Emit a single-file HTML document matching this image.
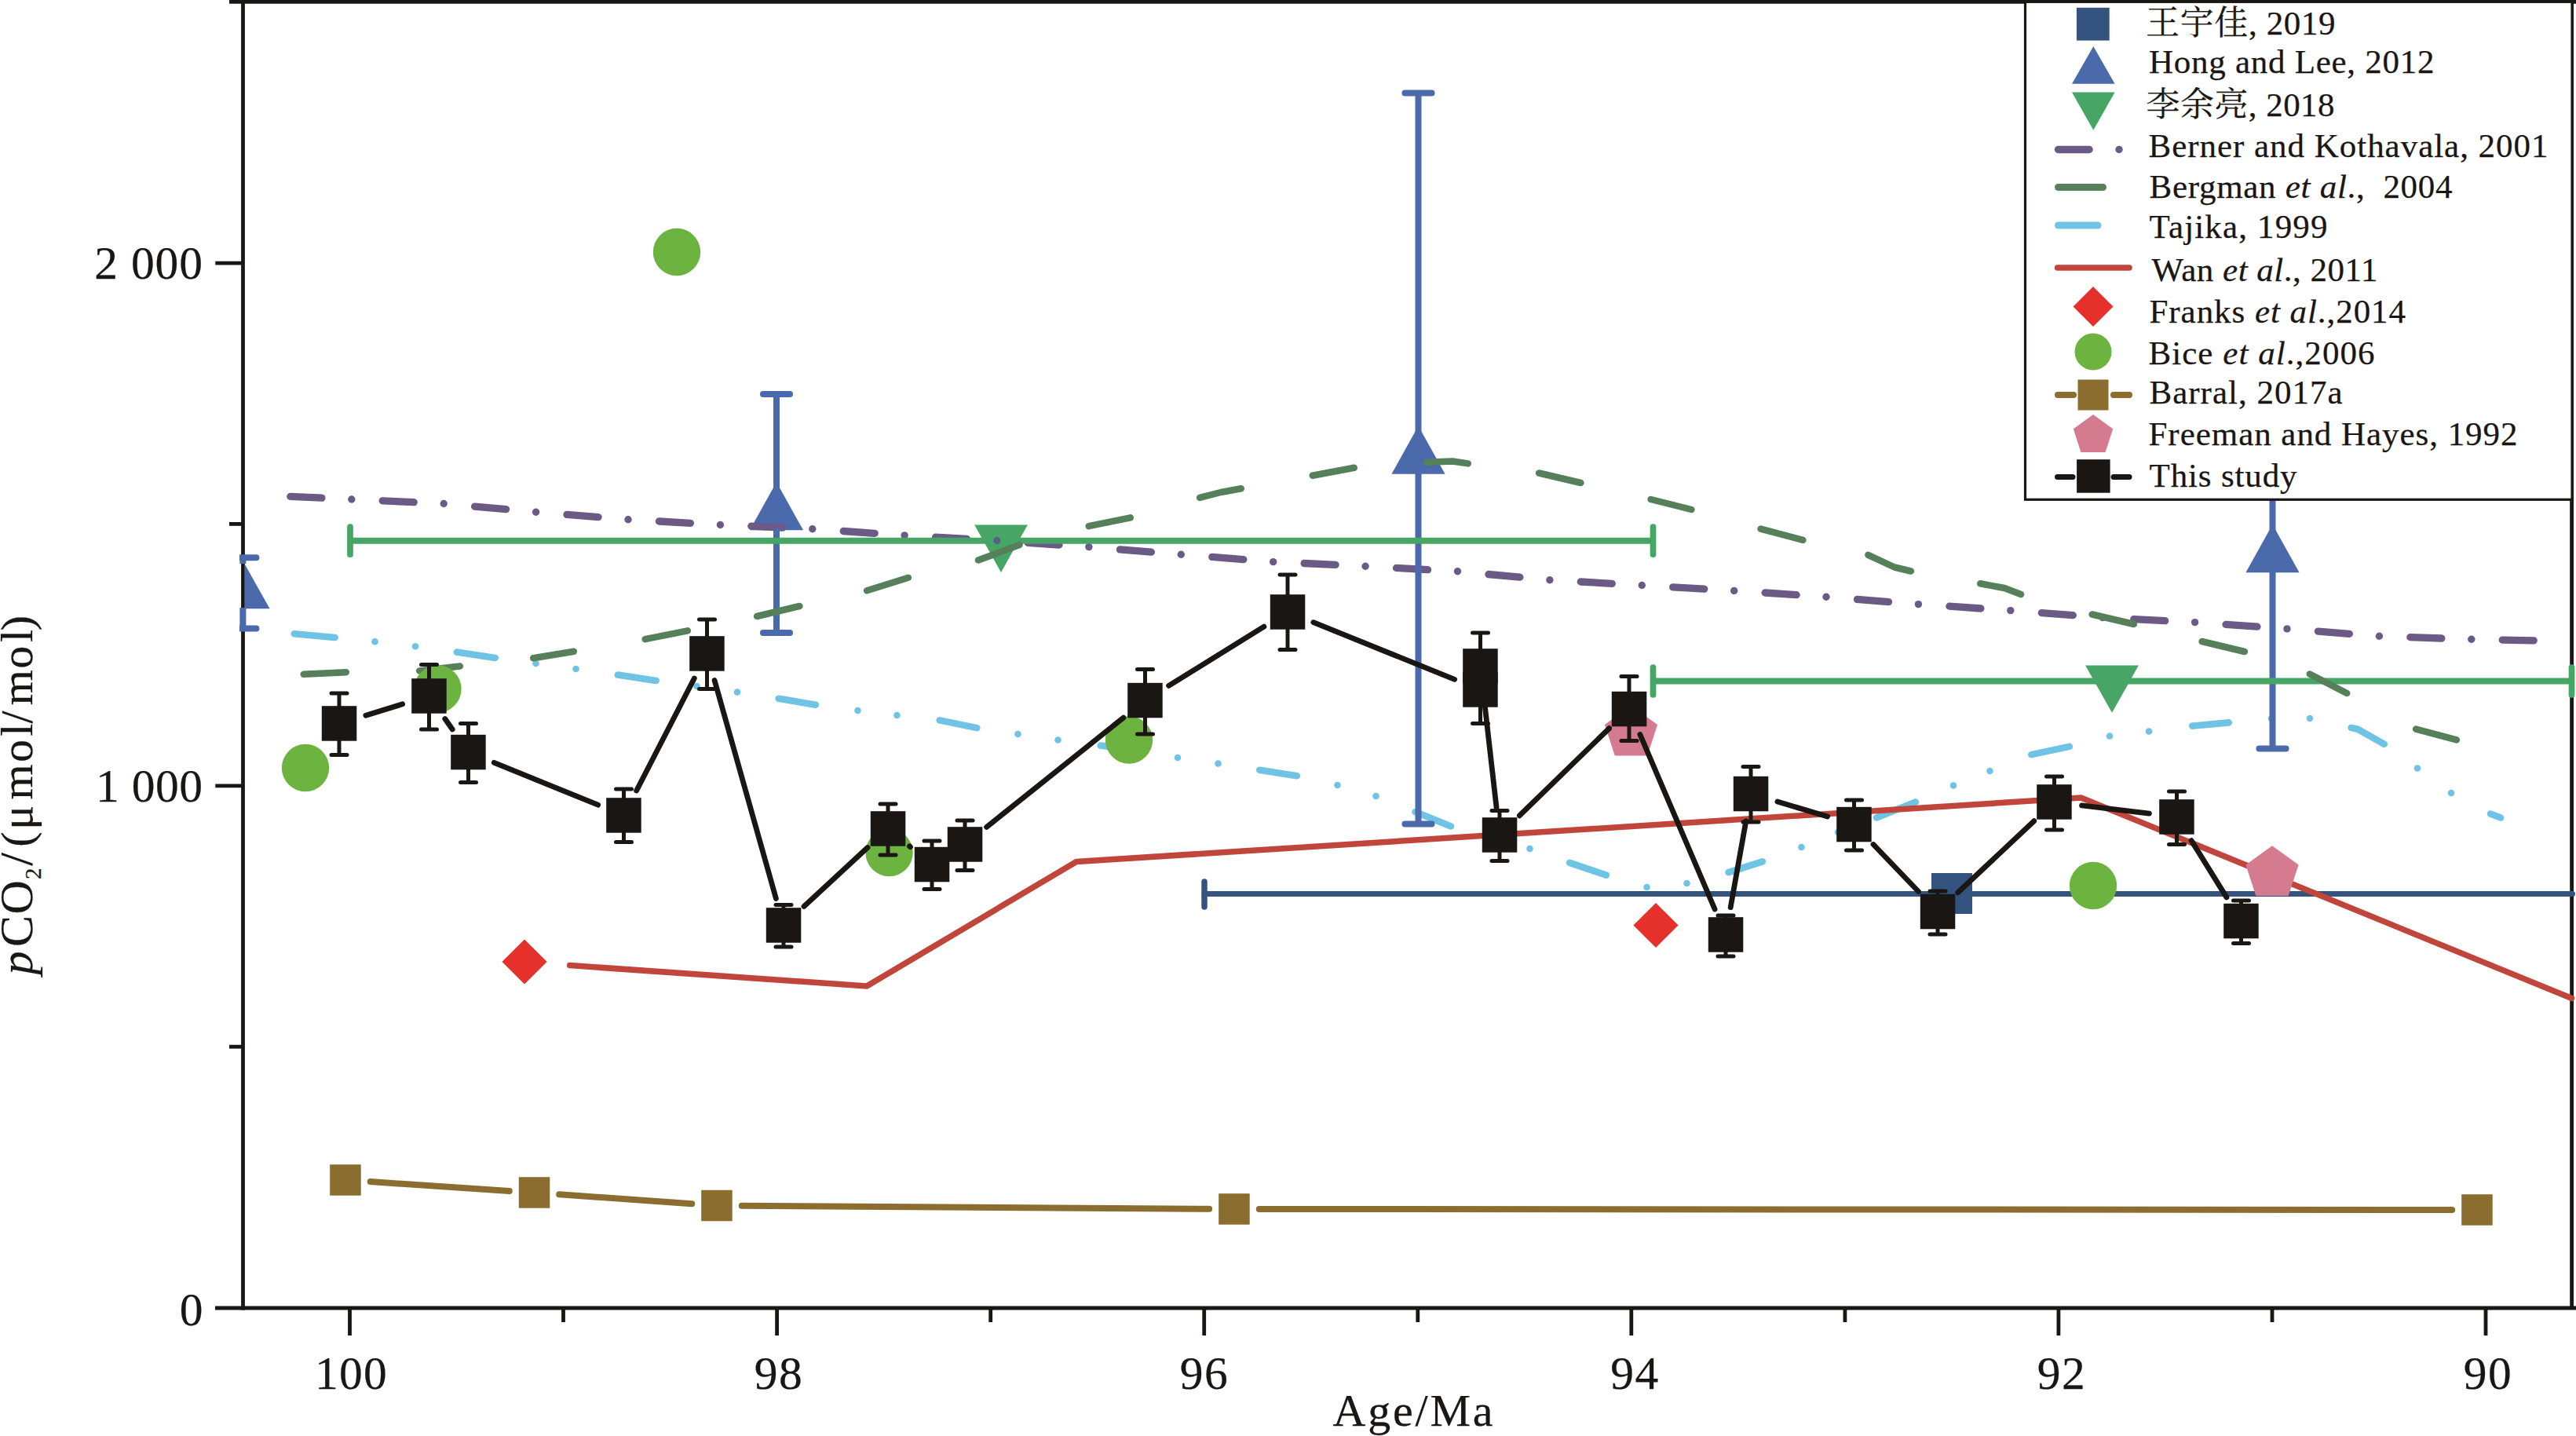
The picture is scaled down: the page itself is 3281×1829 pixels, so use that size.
<!DOCTYPE html>
<html lang="zh"><head><meta charset="utf-8"><title>pCO2 vs Age</title>
<style>html,body{margin:0;padding:0;background:#fff}svg{display:block}text{font-family:'Liberation Serif','Noto Serif CJK SC',serif;fill:#1a1613;stroke:#1a1613;stroke-width:.25px}</style></head><body>
<svg width="3281" height="1829" viewBox="0 0 3281 1829">
<rect width="3281" height="1829" fill="#fff"/>
<defs><clipPath id="cpPlot"><rect x="311.5" y="0" width="2980" height="1668"/></clipPath><clipPath id="cpBar"><rect x="305" y="0" width="2980" height="1668"/></clipPath></defs>
<g stroke="#1a1613" stroke-width="4.8" stroke-linecap="butt" fill="none">
<line x1="292" y1="2.35" x2="3281" y2="2.35" stroke-width="4.8"/>
<line x1="309.5" y1="0" x2="309.5" y2="1668.4"/>
<line x1="274" y1="1666" x2="3281" y2="1666"/>
<line x1="3275.6" y1="0" x2="3275.6" y2="1666" stroke-width="4.8"/>
<line x1="274.3" y1="1000.9" x2="309.5" y2="1000.9"/>
<line x1="274.3" y1="335.2" x2="309.5" y2="335.2"/>
<line x1="292" y1="1333.2" x2="309.5" y2="1333.2"/>
<line x1="292" y1="667.4" x2="309.5" y2="667.4"/>
<line x1="445.5" y1="1666" x2="445.5" y2="1701"/>
<line x1="989.6" y1="1666" x2="989.6" y2="1701"/>
<line x1="1533.7" y1="1666" x2="1533.7" y2="1701"/>
<line x1="2077.8" y1="1666" x2="2077.8" y2="1701"/>
<line x1="2621.9" y1="1666" x2="2621.9" y2="1701"/>
<line x1="3166" y1="1666" x2="3166" y2="1701"/>
<line x1="717.5" y1="1666" x2="717.5" y2="1684"/>
<line x1="1261.7" y1="1666" x2="1261.7" y2="1684"/>
<line x1="1805.8" y1="1666" x2="1805.8" y2="1684"/>
<line x1="2349.9" y1="1666" x2="2349.9" y2="1684"/>
<line x1="2894" y1="1666" x2="2894" y2="1684"/>
</g>
<g font-size="59.5">
<text x="258.1" y="354.5" text-anchor="end" textLength="137.8" lengthAdjust="spacing">2 000</text>
<text x="258.1" y="1021" text-anchor="end" textLength="136.1" lengthAdjust="spacing">1 000</text>
<text x="258.6" y="1687.8" text-anchor="end">0</text>
<text x="446.9" y="1769" text-anchor="middle" textLength="91.8" lengthAdjust="spacing">100</text>
<text x="991.3" y="1769" text-anchor="middle" textLength="61" lengthAdjust="spacing">98</text>
<text x="1533.2" y="1769" text-anchor="middle" textLength="61" lengthAdjust="spacing">96</text>
<text x="2081.8" y="1769" text-anchor="middle" textLength="61" lengthAdjust="spacing">94</text>
<text x="2625.3" y="1769" text-anchor="middle" textLength="61" lengthAdjust="spacing">92</text>
<text x="3168.3" y="1769" text-anchor="middle" textLength="61" lengthAdjust="spacing">90</text>
<text x="1697.5" y="1816" textLength="204" lengthAdjust="spacing" font-size="58">Age/Ma</text>
<text transform="translate(40.6 1245.4) rotate(-90)"><tspan x="4" font-size="60" font-style="italic">p</tspan><tspan x="39.4" font-size="60">C</tspan><tspan x="80.8" font-size="60">O</tspan><tspan x="125.5" font-size="29" dy="11.5">2</tspan><tspan x="142.6" font-size="60" dy="-11.5">/</tspan><tspan x="166.6" font-size="58">(</tspan><tspan x="188.6" font-size="58">μ</tspan><tspan x="226.9" font-size="58">m</tspan><tspan x="274.4" font-size="58">o</tspan><tspan x="307.7" font-size="58">l</tspan><tspan x="323.9" font-size="58">/</tspan><tspan x="347.1" font-size="58">m</tspan><tspan x="393.6" font-size="58">o</tspan><tspan x="427.5" font-size="58">l</tspan><tspan x="442.1" font-size="58">)</tspan></text>
</g>
<g clip-path="url(#cpBar)">
<line x1="1534" y1="1138.5" x2="3276.5" y2="1138.5" stroke="#34537f" stroke-width="7" stroke-linecap="round"/>
<line x1="1534" y1="1123" x2="1534" y2="1155" stroke="#34537f" stroke-width="7.5" stroke-linecap="round"/>
<rect x="2460" y="1112" width="52" height="52" fill="#34537f"/>
<polygon points="989,614 1023.1,675.3 954.9,675.3" fill="#4a6aac"/>
<polygon points="1806.5,542.5 1840.6,603.8 1772.4,603.8" fill="#4a6aac"/>
<polygon points="2894.5,668 2928.6,729.3 2860.4,729.3" fill="#4a6aac"/>
<polygon points="309.5,714.5 343.6,775.3 275.4,775.3" fill="#4a6aac" clip-path="url(#cpPlot)"/>
<polyline points="369.8,632.4 409.9,634.2" fill="none" stroke="#6a5a85" stroke-width="9.3" stroke-linecap="round" stroke-linejoin="round"/>
<circle cx="447.8" cy="636" r="4.7" fill="#6a5a85"/>
<polyline points="487.2,637.8 527.2,639.7" fill="none" stroke="#6a5a85" stroke-width="9.3" stroke-linecap="round" stroke-linejoin="round"/>
<circle cx="565.2" cy="641.5" r="4.7" fill="#6a5a85"/>
<polyline points="604.6,645.1 644.6,648.7" fill="none" stroke="#6a5a85" stroke-width="9.3" stroke-linecap="round" stroke-linejoin="round"/>
<circle cx="682.6" cy="652.2" r="4.7" fill="#6a5a85"/>
<polyline points="722,655.4 762,658.6" fill="none" stroke="#6a5a85" stroke-width="9.3" stroke-linecap="round" stroke-linejoin="round"/>
<circle cx="800" cy="661.7" r="4.7" fill="#6a5a85"/>
<polyline points="839.4,664 879.4,666.3" fill="none" stroke="#6a5a85" stroke-width="9.3" stroke-linecap="round" stroke-linejoin="round"/>
<circle cx="917.4" cy="668.5" r="4.7" fill="#6a5a85"/>
<polyline points="956.8,670.2 996.8,672" fill="none" stroke="#6a5a85" stroke-width="9.3" stroke-linecap="round" stroke-linejoin="round"/>
<circle cx="1034.8" cy="673.7" r="4.7" fill="#6a5a85"/>
<polyline points="1074.2,676.5 1114.2,679.3" fill="none" stroke="#6a5a85" stroke-width="9.3" stroke-linecap="round" stroke-linejoin="round"/>
<circle cx="1152.1" cy="681.9" r="4.7" fill="#6a5a85"/>
<polyline points="1191.6,684.2 1231.6,686.5" fill="none" stroke="#6a5a85" stroke-width="9.3" stroke-linecap="round" stroke-linejoin="round"/>
<circle cx="1269.5" cy="688.7" r="4.7" fill="#6a5a85"/>
<polyline points="1309,691.3 1349,694" fill="none" stroke="#6a5a85" stroke-width="9.3" stroke-linecap="round" stroke-linejoin="round"/>
<circle cx="1386.9" cy="696.6" r="4.7" fill="#6a5a85"/>
<polyline points="1426.4,699.9 1466.4,703.2" fill="none" stroke="#6a5a85" stroke-width="9.3" stroke-linecap="round" stroke-linejoin="round"/>
<circle cx="1504.3" cy="706.3" r="4.7" fill="#6a5a85"/>
<polyline points="1543.8,709.4 1583.8,712.6" fill="none" stroke="#6a5a85" stroke-width="9.3" stroke-linecap="round" stroke-linejoin="round"/>
<circle cx="1621.7" cy="715.6" r="4.7" fill="#6a5a85"/>
<polyline points="1661.1,717.5 1701.1,719.4" fill="none" stroke="#6a5a85" stroke-width="9.3" stroke-linecap="round" stroke-linejoin="round"/>
<circle cx="1739.1" cy="721.2" r="4.7" fill="#6a5a85"/>
<polyline points="1778.5,723.4 1818.5,725.7" fill="none" stroke="#6a5a85" stroke-width="9.3" stroke-linecap="round" stroke-linejoin="round"/>
<circle cx="1856.5" cy="727.8" r="4.7" fill="#6a5a85"/>
<polyline points="1895.9,731.5 1935.9,735.2" fill="none" stroke="#6a5a85" stroke-width="9.3" stroke-linecap="round" stroke-linejoin="round"/>
<circle cx="1973.9" cy="738.8" r="4.7" fill="#6a5a85"/>
<polyline points="2013.3,741 2053.3,743.3" fill="none" stroke="#6a5a85" stroke-width="9.3" stroke-linecap="round" stroke-linejoin="round"/>
<circle cx="2091.3" cy="745.5" r="4.7" fill="#6a5a85"/>
<polyline points="2130.7,747.8 2170.7,750.2" fill="none" stroke="#6a5a85" stroke-width="9.3" stroke-linecap="round" stroke-linejoin="round"/>
<circle cx="2208.7" cy="752.4" r="4.7" fill="#6a5a85"/>
<polyline points="2248.1,755 2288.1,757.7" fill="none" stroke="#6a5a85" stroke-width="9.3" stroke-linecap="round" stroke-linejoin="round"/>
<circle cx="2326" cy="760.3" r="4.7" fill="#6a5a85"/>
<polyline points="2365.5,763.4 2405.5,766.6" fill="none" stroke="#6a5a85" stroke-width="9.3" stroke-linecap="round" stroke-linejoin="round"/>
<circle cx="2443.4" cy="769.6" r="4.7" fill="#6a5a85"/>
<polyline points="2482.9,772.2 2522.9,775" fill="none" stroke="#6a5a85" stroke-width="9.3" stroke-linecap="round" stroke-linejoin="round"/>
<circle cx="2560.8" cy="777.6" r="4.7" fill="#6a5a85"/>
<polyline points="2600.3,780.6 2640.3,783.7" fill="none" stroke="#6a5a85" stroke-width="9.3" stroke-linecap="round" stroke-linejoin="round"/>
<circle cx="2678.2" cy="786.6" r="4.7" fill="#6a5a85"/>
<polyline points="2717.7,788.6 2757.7,790.7" fill="none" stroke="#6a5a85" stroke-width="9.3" stroke-linecap="round" stroke-linejoin="round"/>
<circle cx="2795.6" cy="792.6" r="4.7" fill="#6a5a85"/>
<polyline points="2835,795.4 2875,798.2" fill="none" stroke="#6a5a85" stroke-width="9.3" stroke-linecap="round" stroke-linejoin="round"/>
<circle cx="2913" cy="800.9" r="4.7" fill="#6a5a85"/>
<polyline points="2952.4,804.1 2992.4,807.3" fill="none" stroke="#6a5a85" stroke-width="9.3" stroke-linecap="round" stroke-linejoin="round"/>
<circle cx="3030.4" cy="810.3" r="4.7" fill="#6a5a85"/>
<polyline points="3069.8,811.6 3109.8,813" fill="none" stroke="#6a5a85" stroke-width="9.3" stroke-linecap="round" stroke-linejoin="round"/>
<circle cx="3147.8" cy="814.3" r="4.7" fill="#6a5a85"/>
<polyline points="3187.2,815.1 3227.2,815.8" fill="none" stroke="#6a5a85" stroke-width="9.3" stroke-linecap="round" stroke-linejoin="round"/>
<polyline points="374.8,807.2 426.7,812" fill="none" stroke="#6fc3e4" stroke-width="8.6" stroke-linecap="round" stroke-linejoin="round"/>
<polyline points="581.8,830.6 630.7,837.9" fill="none" stroke="#6fc3e4" stroke-width="8.6" stroke-linecap="round" stroke-linejoin="round"/>
<polyline points="786.8,859.6 835.7,866.9" fill="none" stroke="#6fc3e4" stroke-width="8.6" stroke-linecap="round" stroke-linejoin="round"/>
<polyline points="991.7,889.7 1038.8,897.8" fill="none" stroke="#6fc3e4" stroke-width="8.6" stroke-linecap="round" stroke-linejoin="round"/>
<polyline points="1196.7,917.4 1244.3,927.1" fill="none" stroke="#6fc3e4" stroke-width="8.6" stroke-linecap="round" stroke-linejoin="round"/>
<polyline points="1401.8,949.6 1447.7,956.4" fill="none" stroke="#6fc3e4" stroke-width="8.6" stroke-linecap="round" stroke-linejoin="round"/>
<polyline points="1604.2,980.7 1651.8,988.3" fill="none" stroke="#6fc3e4" stroke-width="8.6" stroke-linecap="round" stroke-linejoin="round"/>
<polyline points="1802.5,1034.1 1848,1052.4" fill="none" stroke="#6fc3e4" stroke-width="8.6" stroke-linecap="round" stroke-linejoin="round"/>
<polyline points="1999.1,1098.9 2045.9,1114.6" fill="none" stroke="#6fc3e4" stroke-width="8.6" stroke-linecap="round" stroke-linejoin="round"/>
<polyline points="2201.6,1111.2 2244.9,1097.3" fill="none" stroke="#6fc3e4" stroke-width="8.6" stroke-linecap="round" stroke-linejoin="round"/>
<polyline points="2390,1041.4 2440,1021.6" fill="none" stroke="#6fc3e4" stroke-width="8.6" stroke-linecap="round" stroke-linejoin="round"/>
<polyline points="2587.2,961.1 2635.8,950.9" fill="none" stroke="#6fc3e4" stroke-width="8.6" stroke-linecap="round" stroke-linejoin="round"/>
<polyline points="2792.3,924.6 2838.7,920.4" fill="none" stroke="#6fc3e4" stroke-width="8.6" stroke-linecap="round" stroke-linejoin="round"/>
<polyline points="2994.6,926.9 3003,928.8 3036.7,947.7" fill="none" stroke="#6fc3e4" stroke-width="8.6" stroke-linecap="round" stroke-linejoin="round"/>
<polyline points="3172,1036.5 3185,1041.5" fill="none" stroke="#6fc3e4" stroke-width="8.6" stroke-linecap="round" stroke-linejoin="round"/>
<circle cx="477.5" cy="817.2" r="4.3" fill="#6fc3e4"/>
<circle cx="529" cy="823.3" r="4.3" fill="#6fc3e4"/>
<circle cx="682.5" cy="845" r="4.3" fill="#6fc3e4"/>
<circle cx="733.5" cy="852" r="4.3" fill="#6fc3e4"/>
<circle cx="887.5" cy="874" r="4.3" fill="#6fc3e4"/>
<circle cx="939" cy="881.5" r="4.3" fill="#6fc3e4"/>
<circle cx="1092.5" cy="905" r="4.3" fill="#6fc3e4"/>
<circle cx="1142.5" cy="911" r="4.3" fill="#6fc3e4"/>
<circle cx="1296.5" cy="935" r="4.3" fill="#6fc3e4"/>
<circle cx="1347.5" cy="942.5" r="4.3" fill="#6fc3e4"/>
<circle cx="1500" cy="965" r="4.3" fill="#6fc3e4"/>
<circle cx="1551.5" cy="972.5" r="4.3" fill="#6fc3e4"/>
<circle cx="1703.5" cy="1000" r="4.3" fill="#6fc3e4"/>
<circle cx="1752.5" cy="1014" r="4.3" fill="#6fc3e4"/>
<circle cx="1900" cy="1068" r="4.3" fill="#6fc3e4"/>
<circle cx="1948.5" cy="1081" r="4.3" fill="#6fc3e4"/>
<circle cx="2097.5" cy="1130" r="4.3" fill="#6fc3e4"/>
<circle cx="2148.5" cy="1125" r="4.3" fill="#6fc3e4"/>
<circle cx="2294.5" cy="1079" r="4.3" fill="#6fc3e4"/>
<circle cx="2341" cy="1060" r="4.3" fill="#6fc3e4"/>
<circle cx="2488" cy="1000.5" r="4.3" fill="#6fc3e4"/>
<circle cx="2534.5" cy="982" r="4.3" fill="#6fc3e4"/>
<circle cx="2687" cy="937.5" r="4.3" fill="#6fc3e4"/>
<circle cx="2737" cy="931.5" r="4.3" fill="#6fc3e4"/>
<circle cx="2893" cy="915" r="4.3" fill="#6fc3e4"/>
<circle cx="2942" cy="915" r="4.3" fill="#6fc3e4"/>
<circle cx="3079" cy="978.5" r="4.3" fill="#6fc3e4"/>
<circle cx="3122" cy="1010" r="4.3" fill="#6fc3e4"/>
<line x1="989" y1="502" x2="989" y2="625" stroke="#4a6aac" stroke-width="8" stroke-linecap="butt"/>
<line x1="989" y1="673" x2="989" y2="806" stroke="#4a6aac" stroke-width="8" stroke-linecap="butt"/>
<line x1="972" y1="502" x2="1006" y2="502" stroke="#4a6aac" stroke-width="8" stroke-linecap="round"/>
<line x1="972" y1="806" x2="1006" y2="806" stroke="#4a6aac" stroke-width="8" stroke-linecap="round"/>
<line x1="1806.5" y1="118.5" x2="1806.5" y2="553.5" stroke="#4a6aac" stroke-width="8" stroke-linecap="butt"/>
<line x1="1806.5" y1="601.5" x2="1806.5" y2="1049.5" stroke="#4a6aac" stroke-width="8" stroke-linecap="butt"/>
<line x1="1789.5" y1="118.5" x2="1823.5" y2="118.5" stroke="#4a6aac" stroke-width="8" stroke-linecap="round"/>
<line x1="1789.5" y1="1049.5" x2="1823.5" y2="1049.5" stroke="#4a6aac" stroke-width="8" stroke-linecap="round"/>
<line x1="2894.5" y1="467" x2="2894.5" y2="679" stroke="#4a6aac" stroke-width="8" stroke-linecap="butt"/>
<line x1="2894.5" y1="727" x2="2894.5" y2="953.5" stroke="#4a6aac" stroke-width="8" stroke-linecap="butt"/>
<line x1="2877.5" y1="467" x2="2911.5" y2="467" stroke="#4a6aac" stroke-width="8" stroke-linecap="round"/>
<line x1="2877.5" y1="953.5" x2="2911.5" y2="953.5" stroke="#4a6aac" stroke-width="8" stroke-linecap="round"/>
<line x1="309.4" y1="710.2" x2="309.4" y2="718" stroke="#4a6aac" stroke-width="8" stroke-linecap="butt"/>
<line x1="309.4" y1="774" x2="309.4" y2="800.5" stroke="#4a6aac" stroke-width="8" stroke-linecap="butt"/>
<line x1="292.4" y1="710.2" x2="326.4" y2="710.2" stroke="#4a6aac" stroke-width="8" stroke-linecap="round"/>
<line x1="292.4" y1="800.5" x2="326.4" y2="800.5" stroke="#4a6aac" stroke-width="8" stroke-linecap="round"/>
<line x1="446" y1="688.7" x2="2105.5" y2="688.7" stroke="#47a566" stroke-width="8" stroke-linecap="butt"/>
<line x1="446" y1="671.2" x2="446" y2="706.2" stroke="#47a566" stroke-width="7.7" stroke-linecap="round"/>
<line x1="2105.5" y1="671.2" x2="2105.5" y2="706.2" stroke="#47a566" stroke-width="7.7" stroke-linecap="round"/>
<polygon points="1241.1,668.6 1308.9,668.6 1275,728.9" fill="#47a566"/>
<line x1="2105.5" y1="867.5" x2="3275.5" y2="867.5" stroke="#47a566" stroke-width="8" stroke-linecap="butt"/>
<line x1="2105.5" y1="850" x2="2105.5" y2="885" stroke="#47a566" stroke-width="7.7" stroke-linecap="round"/>
<line x1="3275.5" y1="850" x2="3275.5" y2="885" stroke="#47a566" stroke-width="7.7" stroke-linecap="round"/>
<polygon points="2656.1,847.4 2723.9,847.4 2690,907.7" fill="#47a566"/>
<circle cx="1269.8" cy="688.6" r="4.6" fill="#5a5f8a"/>
<polyline points="386.7,858.8 440.8,856.2" fill="none" stroke="#55805a" stroke-width="8.5" stroke-linecap="round" stroke-linejoin="round"/>
<polyline points="534.2,854.5 585.8,848.5" fill="none" stroke="#55805a" stroke-width="8.5" stroke-linecap="round" stroke-linejoin="round"/>
<polyline points="679.2,838.3 730.8,829.7" fill="none" stroke="#55805a" stroke-width="8.5" stroke-linecap="round" stroke-linejoin="round"/>
<polyline points="821.7,814.2 875.8,803.3" fill="none" stroke="#55805a" stroke-width="8.5" stroke-linecap="round" stroke-linejoin="round"/>
<polyline points="964.1,785 1018.4,772" fill="none" stroke="#55805a" stroke-width="8.5" stroke-linecap="round" stroke-linejoin="round"/>
<polyline points="1104.1,752.2 1156.9,735.8" fill="none" stroke="#55805a" stroke-width="8.5" stroke-linecap="round" stroke-linejoin="round"/>
<polyline points="1246,713.5 1298.5,694" fill="none" stroke="#55805a" stroke-width="8.5" stroke-linecap="round" stroke-linejoin="round"/>
<polyline points="1386.7,670.2 1439.8,659.3" fill="none" stroke="#55805a" stroke-width="8.5" stroke-linecap="round" stroke-linejoin="round"/>
<polyline points="1528.1,633.9 1555,627 1580.8,622.3" fill="none" stroke="#55805a" stroke-width="8.5" stroke-linecap="round" stroke-linejoin="round"/>
<polyline points="1671.7,605.7 1724.8,595.8" fill="none" stroke="#55805a" stroke-width="8.5" stroke-linecap="round" stroke-linejoin="round"/>
<polyline points="1816.7,588.8 1850,587.5 1869.8,590.4" fill="none" stroke="#55805a" stroke-width="8.5" stroke-linecap="round" stroke-linejoin="round"/>
<polyline points="1960.1,602.5 2013.4,615" fill="none" stroke="#55805a" stroke-width="8.5" stroke-linecap="round" stroke-linejoin="round"/>
<polyline points="2102.6,636 2154.4,649" fill="none" stroke="#55805a" stroke-width="8.5" stroke-linecap="round" stroke-linejoin="round"/>
<polyline points="2242.6,673.6 2296.4,687.9" fill="none" stroke="#55805a" stroke-width="8.5" stroke-linecap="round" stroke-linejoin="round"/>
<polyline points="2379.4,706.8 2413,722.5 2433.9,727.5" fill="none" stroke="#55805a" stroke-width="8.5" stroke-linecap="round" stroke-linejoin="round"/>
<polyline points="2522.2,743.3 2553,749 2574,757" fill="none" stroke="#55805a" stroke-width="8.5" stroke-linecap="round" stroke-linejoin="round"/>
<polyline points="2664.6,782.5 2717.9,795" fill="none" stroke="#55805a" stroke-width="8.5" stroke-linecap="round" stroke-linejoin="round"/>
<polyline points="2804.6,817 2858.9,830" fill="none" stroke="#55805a" stroke-width="8.5" stroke-linecap="round" stroke-linejoin="round"/>
<polyline points="2941.8,858.5 2989.2,883" fill="none" stroke="#55805a" stroke-width="8.5" stroke-linecap="round" stroke-linejoin="round"/>
<polyline points="3077.1,928.6 3128.9,942.4" fill="none" stroke="#55805a" stroke-width="8.5" stroke-linecap="round" stroke-linejoin="round"/>
<polyline points="725.7,1229.6 1104,1256 1371,1097.5 2650.5,1016 3275.5,1271.5" fill="none" stroke="#c0453a" stroke-width="7.5" stroke-linecap="round" stroke-linejoin="round" stroke-linejoin="miter"/>
<polygon points="668,1196.4 696.6,1225 668,1253.6 639.4,1225" fill="#e6302b"/>
<polygon points="2109,1149.9 2137.6,1178.5 2109,1207.1 2080.4,1178.5" fill="#e6302b"/>
<circle cx="389" cy="978" r="30.2" fill="#6db33f"/>
<circle cx="557.5" cy="877.5" r="30.2" fill="#6db33f"/>
<circle cx="862" cy="321" r="30.2" fill="#6db33f"/>
<circle cx="1132.6" cy="1086" r="30.2" fill="#6db33f"/>
<circle cx="1438" cy="942.5" r="30.2" fill="#6db33f"/>
<circle cx="2666" cy="1128" r="30.2" fill="#6db33f"/>
<line x1="471.7" y1="1505.1" x2="648.8" y2="1516.9" stroke="#8a6d2f" stroke-width="8" stroke-linecap="round"/>
<line x1="712.2" y1="1521.3" x2="881.3" y2="1533.2" stroke="#8a6d2f" stroke-width="8" stroke-linecap="round"/>
<line x1="944.8" y1="1535.7" x2="1540.2" y2="1539.8" stroke="#8a6d2f" stroke-width="8" stroke-linecap="round"/>
<line x1="1603.8" y1="1540" x2="3123.2" y2="1541" stroke="#8a6d2f" stroke-width="8" stroke-linecap="round"/>
<rect x="420.2" y="1483.2" width="39.5" height="39.5" fill="#8a6d2f"/>
<rect x="660.8" y="1499.2" width="39.5" height="39.5" fill="#8a6d2f"/>
<rect x="893.2" y="1515.8" width="39.5" height="39.5" fill="#8a6d2f"/>
<rect x="1552.2" y="1520.2" width="39.5" height="39.5" fill="#8a6d2f"/>
<rect x="3135.2" y="1521.2" width="39.5" height="39.5" fill="#8a6d2f"/>
<polygon points="2077.5,898.7 2111.1,923.1 2098.2,962.6 2056.8,962.6 2043.9,923.1" fill="#d47b8f"/>
<polygon points="2894,1077.2 2927.6,1101.6 2914.7,1141.1 2873.3,1141.1 2860.4,1101.6" fill="#d47b8f"/>
<line x1="465.9" y1="911.2" x2="512.6" y2="896.8" stroke="#1a1613" stroke-width="6.8" stroke-linecap="round"/>
<line x1="566.8" y1="915.5" x2="576.2" y2="929" stroke="#1a1613" stroke-width="6.8" stroke-linecap="round"/>
<line x1="629.3" y1="971.3" x2="761.7" y2="1025.2" stroke="#1a1613" stroke-width="6.8" stroke-linecap="round"/>
<line x1="810.7" y1="1007" x2="884.3" y2="864" stroke="#1a1613" stroke-width="6.8" stroke-linecap="round"/>
<line x1="910.1" y1="866.6" x2="988.4" y2="1144.4" stroke="#1a1613" stroke-width="6.8" stroke-linecap="round"/>
<line x1="1024" y1="1154.5" x2="1105" y2="1079.5" stroke="#1a1613" stroke-width="6.8" stroke-linecap="round"/>
<line x1="1158.5" y1="1077.8" x2="1159.5" y2="1078.7" stroke="#1a1613" stroke-width="6.8" stroke-linecap="round"/>
<line x1="1256.6" y1="1053.4" x2="1430.9" y2="914.1" stroke="#1a1613" stroke-width="6.8" stroke-linecap="round"/>
<line x1="1488.6" y1="873.3" x2="1609.9" y2="798.2" stroke="#1a1613" stroke-width="6.8" stroke-linecap="round"/>
<line x1="1672.8" y1="792.7" x2="1852.7" y2="865.3" stroke="#1a1613" stroke-width="6.8" stroke-linecap="round"/>
<line x1="1889.5" y1="883.7" x2="1906" y2="1028.3" stroke="#1a1613" stroke-width="6.8" stroke-linecap="round"/>
<line x1="1935.4" y1="1038.8" x2="2049.6" y2="927.7" stroke="#1a1613" stroke-width="6.8" stroke-linecap="round"/>
<line x1="2088.9" y1="935.5" x2="2184.1" y2="1158" stroke="#1a1613" stroke-width="6.8" stroke-linecap="round"/>
<line x1="2204.2" y1="1155.6" x2="2223.8" y2="1045.9" stroke="#1a1613" stroke-width="6.8" stroke-linecap="round"/>
<line x1="2263.9" y1="1021.1" x2="2327.6" y2="1039.9" stroke="#1a1613" stroke-width="6.8" stroke-linecap="round"/>
<line x1="2386" y1="1075.5" x2="2443.5" y2="1135.5" stroke="#1a1613" stroke-width="6.8" stroke-linecap="round"/>
<line x1="2493.8" y1="1136.8" x2="2590.7" y2="1045.7" stroke="#1a1613" stroke-width="6.8" stroke-linecap="round"/>
<line x1="2651.6" y1="1025.8" x2="2737.4" y2="1036.2" stroke="#1a1613" stroke-width="6.8" stroke-linecap="round"/>
<line x1="2791.1" y1="1070.6" x2="2835.9" y2="1142.9" stroke="#1a1613" stroke-width="6.8" stroke-linecap="round"/>
<line x1="432" y1="883" x2="432" y2="961.5" stroke="#1a1613" stroke-width="5" stroke-linecap="butt"/>
<line x1="422" y1="883" x2="442" y2="883" stroke="#1a1613" stroke-width="5" stroke-linecap="round"/>
<line x1="422" y1="961.5" x2="442" y2="961.5" stroke="#1a1613" stroke-width="5" stroke-linecap="round"/>
<line x1="546.5" y1="846.5" x2="546.5" y2="929" stroke="#1a1613" stroke-width="5" stroke-linecap="butt"/>
<line x1="536.5" y1="846.5" x2="556.5" y2="846.5" stroke="#1a1613" stroke-width="5" stroke-linecap="round"/>
<line x1="536.5" y1="929" x2="556.5" y2="929" stroke="#1a1613" stroke-width="5" stroke-linecap="round"/>
<line x1="596.5" y1="921.5" x2="596.5" y2="996.5" stroke="#1a1613" stroke-width="5" stroke-linecap="butt"/>
<line x1="586.5" y1="921.5" x2="606.5" y2="921.5" stroke="#1a1613" stroke-width="5" stroke-linecap="round"/>
<line x1="586.5" y1="996.5" x2="606.5" y2="996.5" stroke="#1a1613" stroke-width="5" stroke-linecap="round"/>
<line x1="794.5" y1="1005" x2="794.5" y2="1072.5" stroke="#1a1613" stroke-width="5" stroke-linecap="butt"/>
<line x1="784.5" y1="1005" x2="804.5" y2="1005" stroke="#1a1613" stroke-width="5" stroke-linecap="round"/>
<line x1="784.5" y1="1072.5" x2="804.5" y2="1072.5" stroke="#1a1613" stroke-width="5" stroke-linecap="round"/>
<line x1="900.5" y1="789" x2="900.5" y2="877.5" stroke="#1a1613" stroke-width="5" stroke-linecap="butt"/>
<line x1="890.5" y1="789" x2="910.5" y2="789" stroke="#1a1613" stroke-width="5" stroke-linecap="round"/>
<line x1="890.5" y1="877.5" x2="910.5" y2="877.5" stroke="#1a1613" stroke-width="5" stroke-linecap="round"/>
<line x1="998" y1="1152.5" x2="998" y2="1206" stroke="#1a1613" stroke-width="5" stroke-linecap="butt"/>
<line x1="988" y1="1152.5" x2="1008" y2="1152.5" stroke="#1a1613" stroke-width="5" stroke-linecap="round"/>
<line x1="988" y1="1206" x2="1008" y2="1206" stroke="#1a1613" stroke-width="5" stroke-linecap="round"/>
<line x1="1131" y1="1024" x2="1131" y2="1089" stroke="#1a1613" stroke-width="5" stroke-linecap="butt"/>
<line x1="1121" y1="1024" x2="1141" y2="1024" stroke="#1a1613" stroke-width="5" stroke-linecap="round"/>
<line x1="1121" y1="1089" x2="1141" y2="1089" stroke="#1a1613" stroke-width="5" stroke-linecap="round"/>
<line x1="1187" y1="1071" x2="1187" y2="1132.5" stroke="#1a1613" stroke-width="5" stroke-linecap="butt"/>
<line x1="1177" y1="1071" x2="1197" y2="1071" stroke="#1a1613" stroke-width="5" stroke-linecap="round"/>
<line x1="1177" y1="1132.5" x2="1197" y2="1132.5" stroke="#1a1613" stroke-width="5" stroke-linecap="round"/>
<line x1="1229" y1="1045" x2="1229" y2="1108.5" stroke="#1a1613" stroke-width="5" stroke-linecap="butt"/>
<line x1="1219" y1="1045" x2="1239" y2="1045" stroke="#1a1613" stroke-width="5" stroke-linecap="round"/>
<line x1="1219" y1="1108.5" x2="1239" y2="1108.5" stroke="#1a1613" stroke-width="5" stroke-linecap="round"/>
<line x1="1458.5" y1="852.5" x2="1458.5" y2="935" stroke="#1a1613" stroke-width="5" stroke-linecap="butt"/>
<line x1="1448.5" y1="852.5" x2="1468.5" y2="852.5" stroke="#1a1613" stroke-width="5" stroke-linecap="round"/>
<line x1="1448.5" y1="935" x2="1468.5" y2="935" stroke="#1a1613" stroke-width="5" stroke-linecap="round"/>
<line x1="1640" y1="732" x2="1640" y2="827.5" stroke="#1a1613" stroke-width="5" stroke-linecap="butt"/>
<line x1="1630" y1="732" x2="1650" y2="732" stroke="#1a1613" stroke-width="5" stroke-linecap="round"/>
<line x1="1630" y1="827.5" x2="1650" y2="827.5" stroke="#1a1613" stroke-width="5" stroke-linecap="round"/>
<line x1="1885.5" y1="836" x2="1885.5" y2="921.5" stroke="#1a1613" stroke-width="5" stroke-linecap="butt"/>
<line x1="1875.5" y1="836" x2="1895.5" y2="836" stroke="#1a1613" stroke-width="5" stroke-linecap="round"/>
<line x1="1875.5" y1="921.5" x2="1895.5" y2="921.5" stroke="#1a1613" stroke-width="5" stroke-linecap="round"/>
<line x1="1885.5" y1="806" x2="1885.5" y2="891" stroke="#1a1613" stroke-width="5" stroke-linecap="butt"/>
<line x1="1875.5" y1="806" x2="1895.5" y2="806" stroke="#1a1613" stroke-width="5" stroke-linecap="round"/>
<line x1="1875.5" y1="891" x2="1895.5" y2="891" stroke="#1a1613" stroke-width="5" stroke-linecap="round"/>
<line x1="1910" y1="1032.5" x2="1910" y2="1096.5" stroke="#1a1613" stroke-width="5" stroke-linecap="butt"/>
<line x1="1900" y1="1032.5" x2="1920" y2="1032.5" stroke="#1a1613" stroke-width="5" stroke-linecap="round"/>
<line x1="1900" y1="1096.5" x2="1920" y2="1096.5" stroke="#1a1613" stroke-width="5" stroke-linecap="round"/>
<line x1="2075" y1="861.5" x2="2075" y2="943.5" stroke="#1a1613" stroke-width="5" stroke-linecap="butt"/>
<line x1="2065" y1="861.5" x2="2085" y2="861.5" stroke="#1a1613" stroke-width="5" stroke-linecap="round"/>
<line x1="2065" y1="943.5" x2="2085" y2="943.5" stroke="#1a1613" stroke-width="5" stroke-linecap="round"/>
<line x1="2198" y1="1166" x2="2198" y2="1218" stroke="#1a1613" stroke-width="5" stroke-linecap="butt"/>
<line x1="2188" y1="1166" x2="2208" y2="1166" stroke="#1a1613" stroke-width="5" stroke-linecap="round"/>
<line x1="2188" y1="1218" x2="2208" y2="1218" stroke="#1a1613" stroke-width="5" stroke-linecap="round"/>
<line x1="2230" y1="976.5" x2="2230" y2="1047" stroke="#1a1613" stroke-width="5" stroke-linecap="butt"/>
<line x1="2220" y1="976.5" x2="2240" y2="976.5" stroke="#1a1613" stroke-width="5" stroke-linecap="round"/>
<line x1="2220" y1="1047" x2="2240" y2="1047" stroke="#1a1613" stroke-width="5" stroke-linecap="round"/>
<line x1="2361.5" y1="1019" x2="2361.5" y2="1083" stroke="#1a1613" stroke-width="5" stroke-linecap="butt"/>
<line x1="2351.5" y1="1019" x2="2371.5" y2="1019" stroke="#1a1613" stroke-width="5" stroke-linecap="round"/>
<line x1="2351.5" y1="1083" x2="2371.5" y2="1083" stroke="#1a1613" stroke-width="5" stroke-linecap="round"/>
<line x1="2468" y1="1135" x2="2468" y2="1190" stroke="#1a1613" stroke-width="5" stroke-linecap="butt"/>
<line x1="2458" y1="1135" x2="2478" y2="1135" stroke="#1a1613" stroke-width="5" stroke-linecap="round"/>
<line x1="2458" y1="1190" x2="2478" y2="1190" stroke="#1a1613" stroke-width="5" stroke-linecap="round"/>
<line x1="2616.5" y1="989" x2="2616.5" y2="1057" stroke="#1a1613" stroke-width="5" stroke-linecap="butt"/>
<line x1="2606.5" y1="989" x2="2626.5" y2="989" stroke="#1a1613" stroke-width="5" stroke-linecap="round"/>
<line x1="2606.5" y1="1057" x2="2626.5" y2="1057" stroke="#1a1613" stroke-width="5" stroke-linecap="round"/>
<line x1="2772.5" y1="1008" x2="2772.5" y2="1075.5" stroke="#1a1613" stroke-width="5" stroke-linecap="butt"/>
<line x1="2762.5" y1="1008" x2="2782.5" y2="1008" stroke="#1a1613" stroke-width="5" stroke-linecap="round"/>
<line x1="2762.5" y1="1075.5" x2="2782.5" y2="1075.5" stroke="#1a1613" stroke-width="5" stroke-linecap="round"/>
<line x1="2854.5" y1="1147" x2="2854.5" y2="1201.5" stroke="#1a1613" stroke-width="5" stroke-linecap="butt"/>
<line x1="2844.5" y1="1147" x2="2864.5" y2="1147" stroke="#1a1613" stroke-width="5" stroke-linecap="round"/>
<line x1="2844.5" y1="1201.5" x2="2864.5" y2="1201.5" stroke="#1a1613" stroke-width="5" stroke-linecap="round"/>
<rect x="409.8" y="899.2" width="44.5" height="44.5" fill="#1a1613"/>
<rect x="524.2" y="864.2" width="44.5" height="44.5" fill="#1a1613"/>
<rect x="574.2" y="935.8" width="44.5" height="44.5" fill="#1a1613"/>
<rect x="772.2" y="1016.2" width="44.5" height="44.5" fill="#1a1613"/>
<rect x="878.2" y="810.2" width="44.5" height="44.5" fill="#1a1613"/>
<rect x="975.8" y="1156.2" width="44.5" height="44.5" fill="#1a1613"/>
<rect x="1108.8" y="1033.2" width="44.5" height="44.5" fill="#1a1613"/>
<rect x="1164.8" y="1078.8" width="44.5" height="44.5" fill="#1a1613"/>
<rect x="1206.8" y="1053.2" width="44.5" height="44.5" fill="#1a1613"/>
<rect x="1436.2" y="869.8" width="44.5" height="44.5" fill="#1a1613"/>
<rect x="1617.8" y="757.2" width="44.5" height="44.5" fill="#1a1613"/>
<rect x="1863.2" y="856.2" width="44.5" height="44.5" fill="#1a1613"/>
<rect x="1863.2" y="826.2" width="44.5" height="44.5" fill="#1a1613"/>
<rect x="1887.8" y="1041.2" width="44.5" height="44.5" fill="#1a1613"/>
<rect x="2052.8" y="880.8" width="44.5" height="44.5" fill="#1a1613"/>
<rect x="2175.8" y="1168.2" width="44.5" height="44.5" fill="#1a1613"/>
<rect x="2207.8" y="988.8" width="44.5" height="44.5" fill="#1a1613"/>
<rect x="2339.2" y="1027.8" width="44.5" height="44.5" fill="#1a1613"/>
<rect x="2445.8" y="1138.8" width="44.5" height="44.5" fill="#1a1613"/>
<rect x="2594.2" y="999.2" width="44.5" height="44.5" fill="#1a1613"/>
<rect x="2750.2" y="1018.2" width="44.5" height="44.5" fill="#1a1613"/>
<rect x="2832.2" y="1150.8" width="44.5" height="44.5" fill="#1a1613"/>
</g>
<rect x="2579.5" y="2.35" width="696.5" height="633.9499999999999" fill="#fff" stroke="#1a1613" stroke-width="3.2"/>
<rect x="2644.9" y="9.8" width="41.8" height="41.8" fill="#34537f"/>
<polygon points="2666.3,58.9 2693.6,106.8 2639,106.8" fill="#4a6aac"/>
<polygon points="2639,117.5 2693.6,117.5 2666.3,165.7" fill="#47a566"/>
<line x1="2621.5" y1="190.5" x2="2661" y2="190.5" stroke="#6a5a85" stroke-width="9.5" stroke-linecap="round"/>
<circle cx="2699" cy="190.5" r="4.7" fill="#6a5a85"/>
<line x1="2621.5" y1="238.5" x2="2678.5" y2="238.5" stroke="#55805a" stroke-width="9" stroke-linecap="round"/>
<line x1="2621.5" y1="287" x2="2672" y2="287" stroke="#6fc3e4" stroke-width="9" stroke-linecap="round"/>
<line x1="2620.5" y1="341" x2="2712" y2="341" stroke="#c0453a" stroke-width="7.5" stroke-linecap="round"/>
<polygon points="2666,365 2691.5,390.5 2666,416 2640.5,390.5" fill="#e6302b"/>
<circle cx="2666" cy="448" r="23.5" fill="#6db33f"/>
<line x1="2621" y1="503" x2="2641" y2="503" stroke="#8a6d2f" stroke-width="8" stroke-linecap="round"/>
<line x1="2692" y1="503" x2="2712" y2="503" stroke="#8a6d2f" stroke-width="8" stroke-linecap="round"/>
<rect x="2646.5" y="483.5" width="39" height="39" fill="#8a6d2f"/>
<polygon points="2666,528 2691.2,546.3 2681.6,575.9 2650.4,575.9 2640.8,546.3" fill="#d47b8f"/>
<line x1="2620.5" y1="607.5" x2="2640" y2="607.5" stroke="#1a1613" stroke-width="7" stroke-linecap="round"/>
<line x1="2692" y1="607.5" x2="2712" y2="607.5" stroke="#1a1613" stroke-width="7" stroke-linecap="round"/>
<rect x="2645.1" y="585.2" width="42.5" height="42.5" fill="#1a1613"/>
<g font-size="43" xml:space="preserve">
<text x="2733" y="43.5" textLength="241.5" lengthAdjust="spacing">王宇佳, 2019</text>
<text x="2737.0" y="93" textLength="363.5" lengthAdjust="spacing">Hong and Lee, 2012</text>
<text x="2733.5" y="147.5" textLength="240" lengthAdjust="spacing">李余亮, 2018</text>
<text x="2736.5" y="200" textLength="509" lengthAdjust="spacing">Berner and Kothavala, 2001</text>
<text x="2737.5" y="252" textLength="386" lengthAdjust="spacing">Bergman <tspan font-style="italic">et al</tspan>.,&#160; 2004</text>
<text x="2737.5" y="303" textLength="227" lengthAdjust="spacing">Tajika, 1999</text>
<text x="2740.5" y="358" textLength="288" lengthAdjust="spacing">Wan <tspan font-style="italic">et al</tspan>., 2011</text>
<text x="2737.5" y="411" textLength="326.5" lengthAdjust="spacing">Franks <tspan font-style="italic">et al</tspan>.,2014</text>
<text x="2736.5" y="464" textLength="288" lengthAdjust="spacing">Bice <tspan font-style="italic">et al</tspan>.,2006</text>
<text x="2737.5" y="514" textLength="246" lengthAdjust="spacing">Barral, 2017a</text>
<text x="2736.5" y="567" textLength="470" lengthAdjust="spacing">Freeman and Hayes, 1992</text>
<text x="2737.5" y="620" textLength="188" lengthAdjust="spacing">This study</text>
</g>
</svg></body></html>
